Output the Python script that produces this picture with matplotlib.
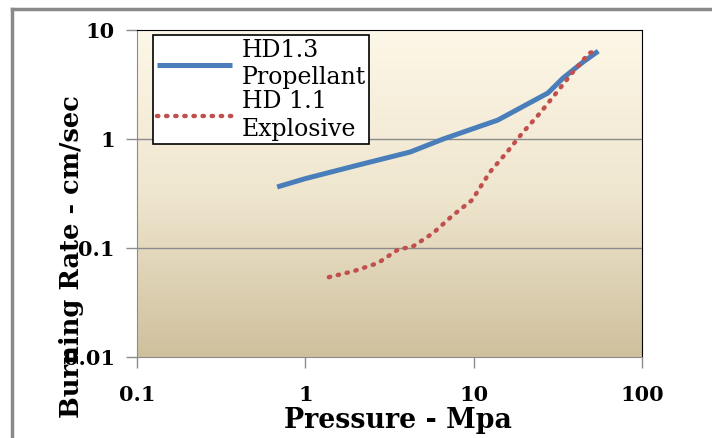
import numpy as np
import matplotlib.pyplot as plt
from matplotlib.colors import LinearSegmentedColormap
from matplotlib.lines import Line2D

# HD 1.3 propellant curve
prop_p = [0.68, 1.0, 2.0, 4.2, 6.6, 13.9, 27.6, 34.0, 44.7, 55.0]
prop_r = [0.363, 0.433, 0.57, 0.76, 1.0, 1.49, 2.64, 3.63, 5.09, 6.4]

# HD 1.1 explosive curve
expl_p = [1.38, 1.95, 2.70, 3.60, 4.30, 5.74, 7.45, 9.78, 12.5, 15.8, 19.7, 24.8, 30.9, 38.5, 48.5, 54.1]
expl_r = [0.054, 0.0615, 0.0728, 0.098, 0.102, 0.137, 0.197, 0.275, 0.498, 0.76, 1.16, 1.73, 2.64, 4.04, 6.15, 6.4]

xticks = [0.1, 1, 10, 100]
xlabels = ['0.1', '1', '10', '100']
yticks = [0.01, 0.1, 1, 10]
ylabels = ['0.01', '0.1', '1', '10']

plt.rcParams['font.family'] = ['DejaVu Serif']

fig = plt.figure(figsize=(7.12, 4.38), dpi=100)

# outer chart frame (only top and left visible)
fig.add_artist(Line2D([12/712, 12/712], [0, 1 - 9/438], color='#8a8a8a', lw=2.5))
fig.add_artist(Line2D([12/712, 1], [1 - 9/438, 1 - 9/438], color='#8a8a8a', lw=2.5))

ax = fig.add_axes([137/712, 1 - 357/438, (642-137)/712, (357-30)/438])
ax.set_xscale('log')
ax.set_yscale('log')
ax.set_xlim(0.1, 100)
ax.set_ylim(0.01, 10)

# gradient background, light at top, tan at bottom
cmap = LinearSegmentedColormap.from_list('bg', ['#fdf7e7', '#efe6cf', '#cfc09d'])
grad = np.linspace(0, 1, 256).reshape(-1, 1)
ax.imshow(grad, cmap=cmap, aspect='auto', extent=[0, 1, 0, 1], origin='upper',
          transform=ax.transAxes, zorder=0)

for y in [0.1, 1]:
    ax.axhline(y, color='#8c8c8c', lw=1, zorder=1)

ax.plot(prop_p, prop_r, color='#4a7ebb', lw=3.6, solid_capstyle='butt',
        label='HD1.3\nPropellant', zorder=3)
ax.plot(expl_p, expl_r, color='#c0504d', lw=3.2, linestyle=(0, (0.3, 1.75)),
        dash_capstyle='round', label='HD 1.1\nExplosive', zorder=3)

ax.set_xticks(xticks)
ax.set_xticklabels(xlabels)
ax.set_yticks(yticks)
ax.set_yticklabels(ylabels)
ax.minorticks_off()
ax.tick_params(axis='both', direction='out', length=8, color='#8c8c8c',
               labelsize=15, width=1)
ax.tick_params(axis='x', pad=12)
ax.tick_params(axis='y', pad=8)
for lab in ax.get_xticklabels() + ax.get_yticklabels():
    lab.set_fontweight('bold')

ax.spines['left'].set_color('#8c8c8c')
ax.spines['bottom'].set_color('#8c8c8c')
ax.spines['top'].set_color('black')
ax.spines['right'].set_color('black')

fig.text(398/712, 1 - 420/438, 'Pressure - Mpa', fontsize=19.3, fontweight='bold',
         ha='center', va='center')
fig.text(72/712, 1 - 257/438, 'Burning Rate - cm/sec', fontsize=18.5, fontweight='bold',
         rotation=90, ha='center', va='center')

leg = ax.legend(loc='upper left', bbox_to_anchor=((153-137)/505, 1 - 5/327),
                fontsize=17, frameon=True, fancybox=False, edgecolor='black',
                framealpha=1, borderpad=0.15, handlelength=3.2, handletextpad=0.4,
                labelspacing=0.05, borderaxespad=0)
leg.get_frame().set_linewidth(1.2)
for t in leg.get_texts():
    t.set_linespacing(1.25)

fig.savefig('out.png', dpi=100)
